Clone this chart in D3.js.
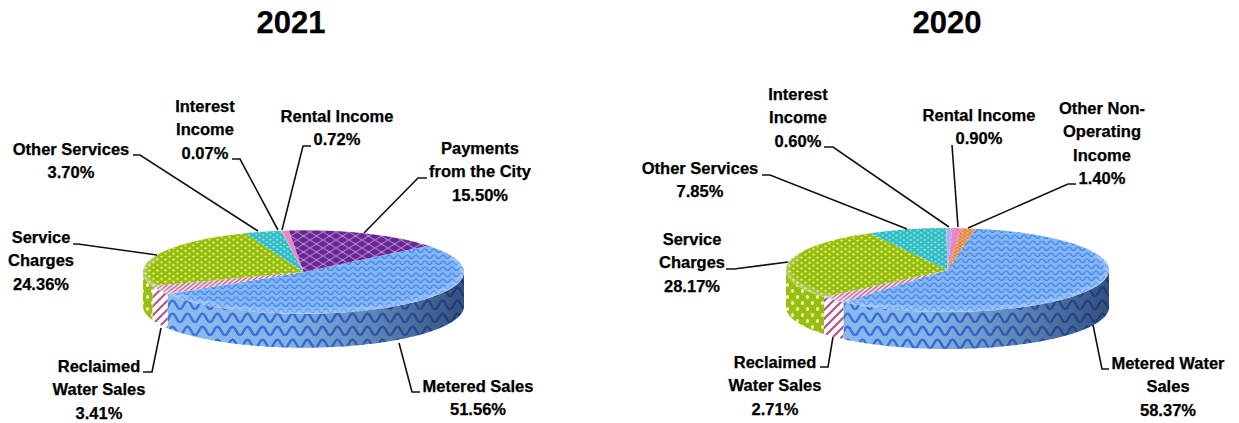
<!DOCTYPE html>
<html>
<head>
<meta charset="utf-8">
<script src="https://cdn.jsdelivr.net/npm/d3@7"></script>
<style>
html, body { margin: 0; background: #fff; }
svg { display: block; }
text { font-family: "Liberation Sans", Arial, sans-serif; font-weight: bold; fill: #000; stroke: #000; stroke-width: 0.25; }
</style>
</head>
<body>
<div id="chart"></div>
<script>
// values
const cats2021 = ["metered", "reclaimed", "service", "other", "interest", "rental", "payments"];
const vals2021 = [51.56, 3.41, 24.36, 3.70, 0.07, 0.72, 15.50];
const text2021 = [
  ["Metered Sales", "51.56%"],
  ["Reclaimed", "Water Sales", "3.41%"],
  ["Service", "Charges", "24.36%"],
  ["Other Services", "3.70%"],
  ["Interest", "Income", "0.07%"],
  ["Rental Income", "0.72%"],
  ["Payments", "from the City", "15.50%"]
];

const cats2020 = ["metered", "reclaimed", "service", "other", "interest", "rental", "nonop"];
const vals2020 = [58.37, 2.71, 28.17, 7.85, 0.60, 0.90, 1.40];
const text2020 = [
  ["Metered Water", "Sales", "58.37%"],
  ["Reclaimed", "Water Sales", "2.71%"],
  ["Service", "Charges", "28.17%"],
  ["Other Services", "7.85%"],
  ["Interest", "Income", "0.60%"],
  ["Rental Income", "0.90%"],
  ["Other Non-", "Operating", "Income", "1.40%"]
];

// label layout: [centre x, first baseline] for each slice, same order as above
const labelPos2021 = [[478, 392], [99, 372], [41, 243], [71, 155], [205, 112], [337, 122], [480, 154]];
const labelPos2020 = [[1168, 369], [775, 368], [692, 245], [700, 174], [798, 100], [979, 121], [1102, 114]];

const leaders2021 = [
  [[399, 343], [412, 392], [420, 392]],
  [[161, 328], [152, 372], [143, 372]],
  [[157, 255], [78, 244], [73, 244]],
  [[258, 231], [140, 155], [133, 155]],
  [[278, 230], [240, 159], [232, 159]],
  [[282, 230], [303, 146], [311, 146]],
  [[364, 233], [418, 178], [427, 178]]
];
const leaders2020 = [
  [[1093, 325], [1102, 369], [1109, 369]],
  [[833, 337], [828, 367], [820, 367]],
  [[788, 262], [734, 269], [726, 269]],
  [[907, 229], [770, 175], [762, 175]],
  [[949, 227], [833, 147], [824, 147]],
  [[958, 227], [952, 145]],
  [[968, 228], [1068, 184], [1076, 184]]
];

const width = 1239;
const height = 423;
const tilt = 0.26;

const svg = d3.select("#chart").append("svg")
  .attr("width", width)
  .attr("height", height);
const defs = svg.append("defs");

defs.append("filter").attr("id", "soft")
  .append("feGaussianBlur").attr("stdDeviation", 0.45);
defs.append("filter").attr("id", "rimBlur")
  .append("feGaussianBlur").attr("stdDeviation", 1.4);

function makePattern(id, w, h, bg, draw) {
  const p = defs.append("pattern")
    .attr("id", id)
    .attr("patternUnits", "userSpaceOnUse")
    .attr("width", w)
    .attr("height", h);
  p.append("rect").attr("width", w).attr("height", h).attr("fill", bg);
  draw(p, w, h);
}

function wave(p, w, h, col, sw) {
  p.append("path")
    .attr("d", `M0,${h * 0.8} L${w * 0.12},${h * 0.7} L${w * 0.38},${h * 0.2} L${w * 0.5},${h * 0.12} L${w * 0.62},${h * 0.2} L${w * 0.88},${h * 0.7} L${w},${h * 0.8}`)
    .attr("fill", "none").attr("stroke", col).attr("stroke-width", sw);
}

function dots(p, w, h, col, rx, ry) {
  [[w / 4, h / 4], [w * 0.75, h * 0.75]].forEach(c => {
    p.append("ellipse").attr("cx", c[0]).attr("cy", c[1]).attr("rx", rx).attr("ry", ry).attr("fill", col);
  });
}

function stripes(p, w, h, col, sw) {
  p.append("path")
    .attr("d", `M${-w},${h} L${w},${-h} M0,${h * 2} L${w * 2},0 M0,${h} L${w},0`)
    .attr("stroke", col).attr("stroke-width", sw);
}

function lattice(p, w, h, bg, fg) {
  p.append("path")
    .attr("d", `M0,${h / 2} L${w / 2},0 L${w},${h / 2} L${w / 2},${h} Z`)
    .attr("fill", "none").attr("stroke", fg).attr("stroke-width", 1);
  [[w / 2, h / 2], [0, 0], [w, 0], [0, h], [w, h]].forEach(c => {
    p.append("ellipse").attr("cx", c[0]).attr("cy", c[1]).attr("rx", w * 0.27).attr("ry", h * 0.27).attr("fill", bg);
  });
}

// patterns for the top face are drawn inside a squashed group, so they get taller here
const k = 1 / tilt;
const sliceFill = {
  metered: "#80b8f6",
  reclaimed: "#ffffff",
  service: "#95bd02",
  other: "#2dbcc4",
  interest: "#8fa0f0",
  rental: "#ef86c4",
  payments: "#6a2596",
  nonop: "#dc7c30"
};

makePattern("top-metered", 9, 6 * k, sliceFill.metered, (p, w, h) => wave(p, w, h, "#3f74e6", 1.5));
makePattern("side-metered", 15, 13, "#88baee", (p, w, h) => wave(p, w, h, "#3a6ce0", 2.4));
makePattern("top-reclaimed", 5, 4 * k, "#f3dde8", (p, w, h) => stripes(p, w, h, "#b04f86", 1.6));
makePattern("side-reclaimed", 9, 9, "#ffffff", (p, w, h) => stripes(p, w, h, "#b04f86", 2.2));
makePattern("top-service", 8, 5.6 * k, sliceFill.service, (p, w, h) => dots(p, w, h, "#eef6c8", 1.25, 1.25 * k * 0.8));
makePattern("side-service", 10, 12, sliceFill.service, (p, w, h) => dots(p, w, h, "#eef6c8", 1.5, 2));
makePattern("top-other", 7, 4.8 * k, sliceFill.other, (p, w, h) => dots(p, w, h, "#c3eff0", 1.05, 1.05 * k * 0.8));
makePattern("side-other", 9, 9, sliceFill.other, (p, w, h) => dots(p, w, h, "#c3eff0", 1.2, 1.2));
makePattern("top-interest", 3, 2 * k, sliceFill.interest, (p, w, h) => dots(p, w, h, "#dfe4ff", 0.6, 0.6 * k));
makePattern("side-interest", 4, 4, sliceFill.interest, (p, w, h) => dots(p, w, h, "#dfe4ff", 0.7, 0.7));
makePattern("top-rental", 4, 4, sliceFill.rental, () => {});
makePattern("side-rental", 4, 4, sliceFill.rental, () => {});
makePattern("top-payments", 13, 8 * k, sliceFill.payments, (p, w, h) => lattice(p, w, h, sliceFill.payments, "#efe4f5"));
makePattern("side-payments", 13, 13, sliceFill.payments, (p, w, h) => lattice(p, w, h, sliceFill.payments, "#efe4f5"));
makePattern("top-nonop", 5, 3.2 * k, sliceFill.nonop, (p, w, h) => lattice(p, w, h, sliceFill.nonop, "#fbe6d2"));
makePattern("side-nonop", 5, 5, sliceFill.nonop, (p, w, h) => lattice(p, w, h, sliceFill.nonop, "#fbe6d2"));

function drawPie(o) {
  const startAngle = o.start * Math.PI / 180;
  const items = o.cats.map((c, i) => ({ cat: c, value: o.vals[i] }));
  const arcs = d3.pie()
    .sort(null)
    .value(d => d.value)
    .startAngle(startAngle)
    .endAngle(startAngle + 2 * Math.PI)(items);

  const ry = o.rx * tilt;
  const pt = (a, dy) => [o.cx + o.rx * Math.sin(a), o.cy - ry * Math.cos(a) + dy];
  const line = d3.line();
  const sweep = (a0, a1, dy) => {
    const n = Math.max(2, Math.ceil((a1 - a0) * 60));
    return d3.range(n + 1).map(i => pt(a0 + (a1 - a0) * i / n, dy));
  };

  const gradId = "shade" + o.title;
  const grad = defs.append("linearGradient").attr("id", gradId)
    .attr("gradientUnits", "userSpaceOnUse")
    .attr("x1", o.cx - o.rx).attr("x2", o.cx + o.rx).attr("y1", 0).attr("y2", 0);
  grad.append("stop").attr("offset", 0).attr("stop-color", "#ffffff").attr("stop-opacity", 0.05);
  grad.append("stop").attr("offset", 0.45).attr("stop-color", "#1c3560").attr("stop-opacity", 0.05);
  grad.append("stop").attr("offset", 1).attr("stop-color", "#12264f").attr("stop-opacity", 0.72);

  const clipId = "topClip" + o.title;
  defs.append("clipPath").attr("id", clipId)
    .append("path").attr("d", line(sweep(0, 2 * Math.PI, 0)) + "Z");

  const g = svg.append("g").attr("filter", "url(#soft)");

  // side wall, only the front half of the disc shows
  const front0 = Math.PI / 2;
  const front1 = 3 * Math.PI / 2;
  arcs.forEach(d => {
    // angles may run past a full turn, so try both windows
    [0, 2 * Math.PI].forEach(shift => {
      const a0 = Math.max(d.startAngle, front0 + shift);
      const a1 = Math.min(d.endAngle, front1 + shift);
      if (a1 <= a0) return;
      const wall = sweep(a0, a1, 0).concat(sweep(a0, a1, o.depth).reverse());
      g.append("path").attr("d", line(wall) + "Z").attr("fill", `url(#side-${d.data.cat})`);
      g.append("path").attr("d", line(wall) + "Z").attr("fill", `url(#${gradId})`);
    });
  });

  // top face
  const arc = d3.arc().innerRadius(0).outerRadius(o.rx);
  const top = g.append("g").attr("transform", `translate(${o.cx},${o.cy}) scale(1,${tilt})`);
  top.selectAll("path")
    .data(arcs)
    .enter()
    .append("path")
    .attr("d", arc)
    .attr("fill", d => `url(#top-${d.data.cat})`);

  // light bevel along the front edge
  g.append("g").attr("clip-path", `url(#${clipId})`)
    .append("path")
    .attr("d", line(sweep(front0 - 0.4, front1 + 0.4, 0)))
    .attr("fill", "none")
    .attr("stroke", "#dff0ff")
    .attr("stroke-opacity", 0.3)
    .attr("stroke-width", 8)
    .attr("filter", "url(#rimBlur)");

  // leader lines
  svg.append("g").selectAll("path")
    .data(o.leaders)
    .enter()
    .append("path")
    .attr("d", d => line(d))
    .attr("fill", "none")
    .attr("stroke", "#111")
    .attr("stroke-width", 1.6);

  // labels
  o.text.forEach((lines, i) => {
    const t = svg.append("text")
      .attr("text-anchor", "middle")
      .attr("font-size", 16.5);
    lines.forEach((s, j) => {
      t.append("tspan")
        .attr("x", o.labels[i][0])
        .attr("y", o.labels[i][1] + j * 23.3)
        .text(s);
    });
  });

  svg.append("text")
    .attr("x", o.titleX)
    .attr("y", 33)
    .attr("text-anchor", "middle")
    .attr("font-size", 31)
    .text(o.title);
}

drawPie({
  title: "2021", titleX: 291,
  cats: cats2021, vals: vals2021, text: text2021,
  labels: labelPos2021, leaders: leaders2021,
  cx: 303.5, cy: 272, rx: 160.5, depth: 34, start: 51
});

drawPie({
  title: "2020", titleX: 947,
  cats: cats2020, vals: vals2020, text: text2020,
  labels: labelPos2020, leaders: leaders2020,
  cx: 947.5, cy: 270, rx: 161.5, depth: 37, start: 10
});
</script>
</body>
</html>
